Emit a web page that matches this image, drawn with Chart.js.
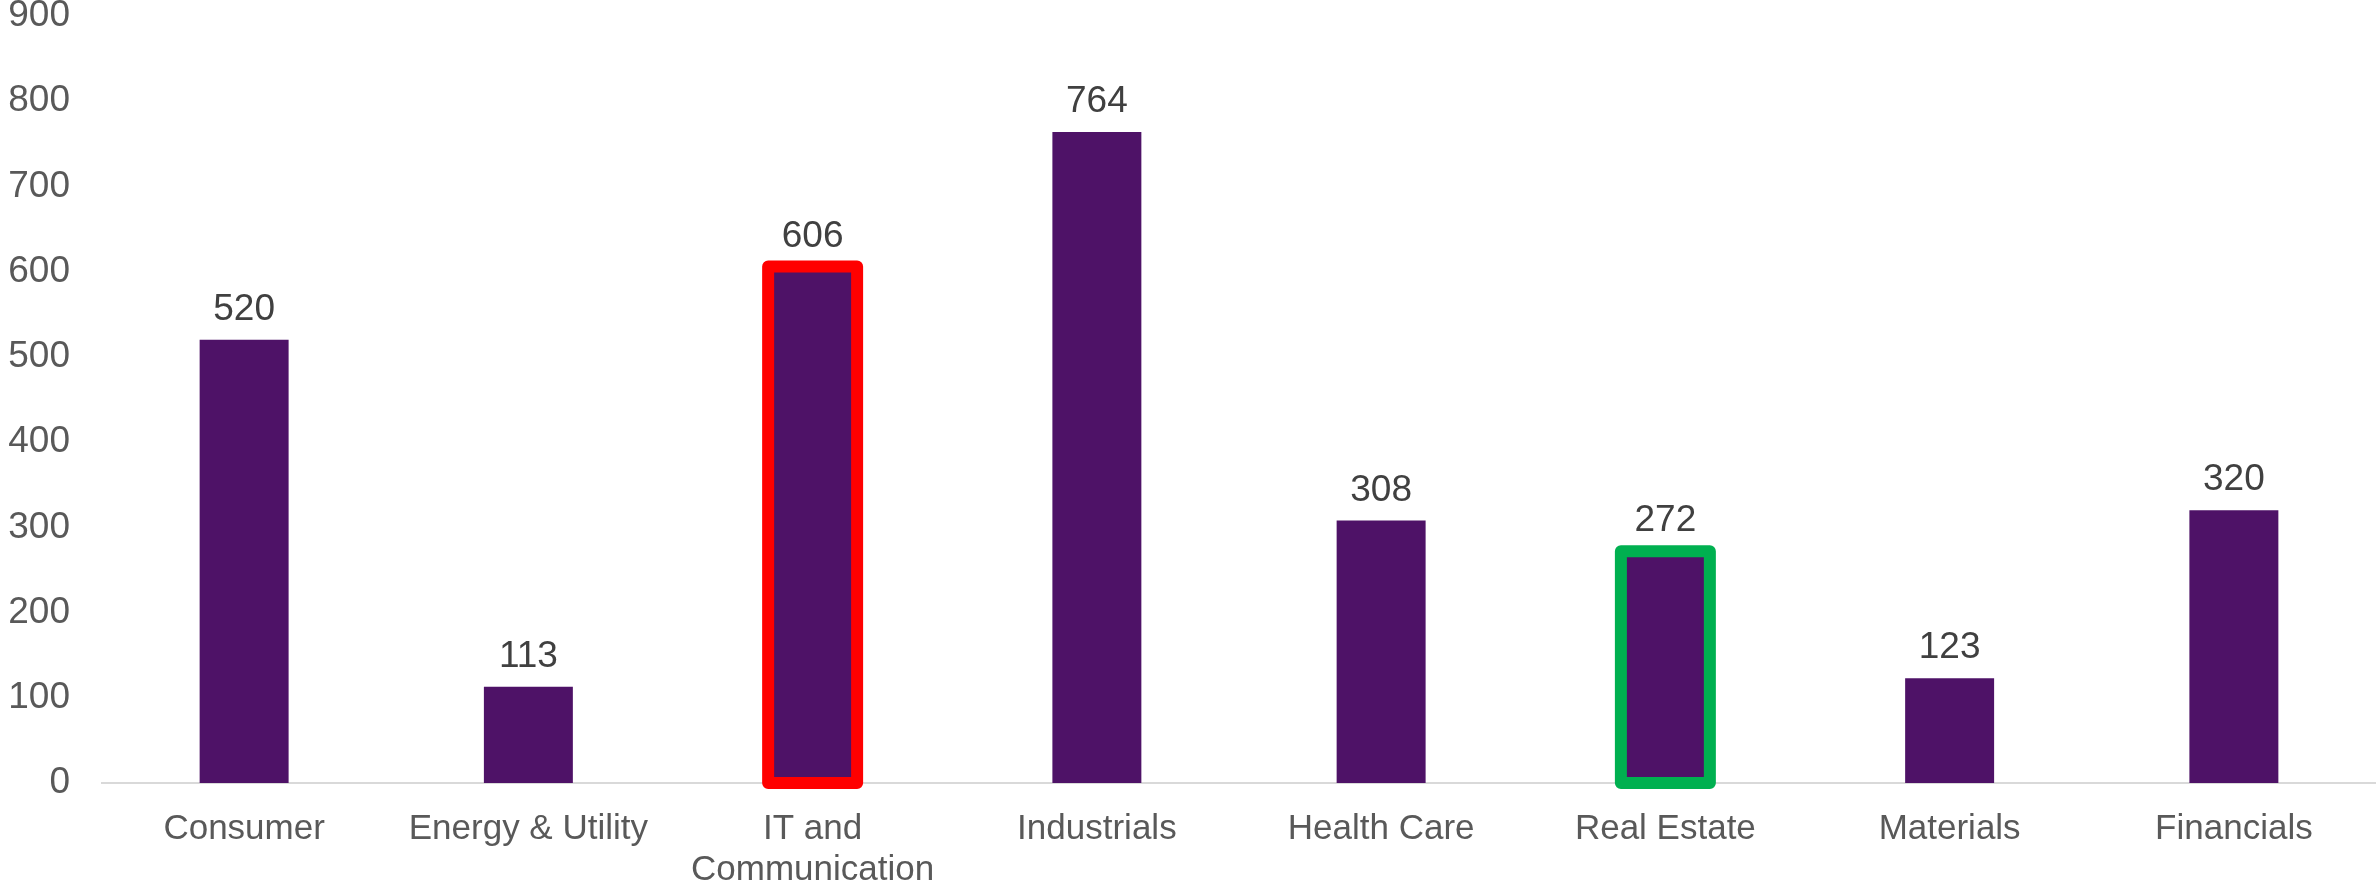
<!DOCTYPE html>
<html>
<head>
<meta charset="utf-8">
<script src="https://cdn.jsdelivr.net/npm/chart.js@4/dist/chart.umd.min.js"></script>
<style>
  html, body { margin: 0; padding: 0; background: #fff; }
  canvas { display: block; }
</style>
</head>
<body>
<canvas id="sectorChart" width="2376" height="886"></canvas>
<script>
// Chart data
const categories = ['Consumer', 'Energy & Utility', ['IT and', 'Communication'], 'Industrials',
                    'Health Care', 'Real Estate', 'Materials', 'Financials'];
const values = [520, 113, 606, 764, 308, 272, 123, 320];
const highlightColors = [null, null, '#FF0000', null, null, '#00B050', null, null];
const yTicks = [0, 100, 200, 300, 400, 500, 600, 700, 800, 900];

const FONT = "'Liberation Sans', Arial, sans-serif";

// outline for highlighted bars, drawn centred on the bar edge
const highlightPlugin = {
    id: 'highlight',
    afterDatasetsDraw(chart) {
        const ctx = chart.ctx;
        const meta = chart.getDatasetMeta(0);
        ctx.save();
        ctx.lineWidth = 12;
        ctx.lineJoin = 'round';
        meta.data.forEach((bar, i) => {
            if (!highlightColors[i]) return;
            const p = bar.getProps(['x', 'y', 'base', 'width'], true);
            ctx.strokeStyle = highlightColors[i];
            ctx.strokeRect(p.x - p.width / 2, p.y, p.width, p.base - p.y);
        });
        ctx.restore();
    }
};

// value labels above each bar
const valueLabels = {
    id: 'valueLabels',
    afterDatasetsDraw(chart) {
        const ctx = chart.ctx;
        const meta = chart.getDatasetMeta(0);
        ctx.save();
        ctx.font = '37px ' + FONT;
        ctx.fillStyle = '#404040';
        ctx.textAlign = 'center';
        ctx.textBaseline = 'alphabetic';
        meta.data.forEach((bar, i) => {
            const p = bar.getProps(['x', 'y'], true);
            ctx.fillText(String(values[i]), p.x, p.y - 20);
        });
        ctx.restore();
    }
};

const ctx = document.getElementById('sectorChart').getContext('2d');
new Chart(ctx, {
    type: 'bar',
    data: {
        labels: categories,
        datasets: [{
            data: values,
            backgroundColor: '#4E1267',
            categoryPercentage: 1,
            barPercentage: 0.313
        }]
    },
    options: {
        responsive: false,
        animation: false,
        layout: { padding: 0 },
        plugins: {
            legend: { display: false },
            tooltip: { enabled: false }
        },
        scales: {
            x: {
                grid: { display: false },
                border: { display: true, color: '#D9D9D9', width: 2 },
                ticks: {
                    color: '#595959',
                    font: { family: FONT, size: 35, lineHeight: 1.17 },
                    padding: 18,
                    maxRotation: 0,
                    autoSkip: false
                },
                afterFit(axis) {
                    axis.height = 103;
                    axis.paddingLeft = 0;
                    axis.paddingRight = 0;
                }
            },
            y: {
                min: yTicks[0],
                max: yTicks[yTicks.length - 1],
                grid: { display: false },
                border: { display: false },
                afterBuildTicks(axis) {
                    axis.ticks = yTicks.map(v => ({ value: v }));
                },
                ticks: {
                    color: '#595959',
                    font: { family: FONT, size: 37 },
                    padding: 24
                },
                afterFit(axis) {
                    axis.width = 102;
                    axis.paddingTop = 16;
                    axis.paddingBottom = 0;
                }
            }
        }
    },
    plugins: [highlightPlugin, valueLabels]
});
</script>
</body>
</html>
